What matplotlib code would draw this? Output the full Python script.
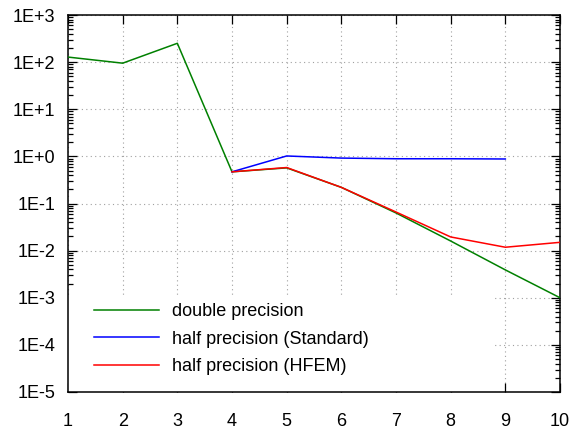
import matplotlib
matplotlib.use("Agg")
import matplotlib.pyplot as plt
from matplotlib.patches import Rectangle
from matplotlib.ticker import LogLocator, FixedLocator, NullFormatter

plt.rcParams['font.family'] = ['Liberation Sans', 'DejaVu Sans']

x_double = [1, 2, 3, 4, 5, 6, 7, 8, 9, 10]
y_double = [128, 95, 251, 0.47, 0.57, 0.22, 0.063, 0.016, 0.0039, 0.001]
x_std = [4, 5, 6, 7, 8, 9]
y_std = [0.47, 1.02, 0.92, 0.89, 0.89, 0.88]
x_hfem = [4, 5, 6, 7, 8, 9, 10]
y_hfem = [0.47, 0.58, 0.22, 0.066, 0.0195, 0.0118, 0.015]

labels = ["double precision", "half precision (Standard)", "half precision (HFEM)"]
y_ticks = [1e-5, 1e-4, 1e-3, 1e-2, 1e-1, 1e0, 1e1, 1e2, 1e3]
y_ticklabels = ["1E-5", "1E-4", "1E-3", "1E-2", "1E-1", "1E+0", "1E+1", "1E+2", "1E+3"]
x_ticks = [1, 2, 3, 4, 5, 6, 7, 8, 9, 10]

fig = plt.figure(figsize=(5.7, 4.3), dpi=100)
ax = fig.add_axes([68/570, 38/430, 492/570, 377/430])
ax.set_yscale('log')
ax.set_xlim(1, 10)
ax.set_ylim(1e-5, 1e3)

ax.plot(x_double, y_double, color='#008000', lw=1.1, label=labels[0], zorder=3)
ax.plot(x_std, y_std, color='#0000ff', lw=1.1, label=labels[1], zorder=3)
ax.plot(x_hfem, y_hfem, color='#ff0000', lw=1.1, label=labels[2], zorder=3)

ax.set_yticks(y_ticks)
ax.set_yticklabels(y_ticklabels)
ax.yaxis.set_minor_locator(LogLocator(base=10, subs=range(2, 10), numticks=100))
ax.yaxis.set_minor_formatter(NullFormatter())
ax.set_xticks(x_ticks)
ax.set_xticklabels([str(v) for v in x_ticks])

ax.tick_params(which='both', direction='in', top=True, right=True, labelsize=13, width=0.9)
ax.tick_params(axis='y', which='major', length=6.5, pad=9)
ax.tick_params(axis='y', which='minor', length=3.5)
ax.tick_params(axis='x', which='major', length=6.5, pad=15)

ax.grid(True, which='major', color='#a0a0a0', linestyle=(0, (1, 3)), linewidth=0.8, zorder=0)
ax.set_axisbelow(True)
for s in ax.spines.values():
    s.set_linewidth(1.1)

# opaque legend background
ax.add_patch(Rectangle((0, 0), (492-68)/492, (392-295)/377, transform=ax.transAxes,
                       facecolor='white', edgecolor='none', zorder=1))

leg = ax.legend(loc='upper left', bbox_to_anchor=(0.038, 0.254), frameon=False,
                fontsize=13, handlelength=3.6, handletextpad=0.72, labelspacing=0.57,
                borderaxespad=0)
leg.set_zorder(4)

fig.savefig('out.png', dpi=100)
